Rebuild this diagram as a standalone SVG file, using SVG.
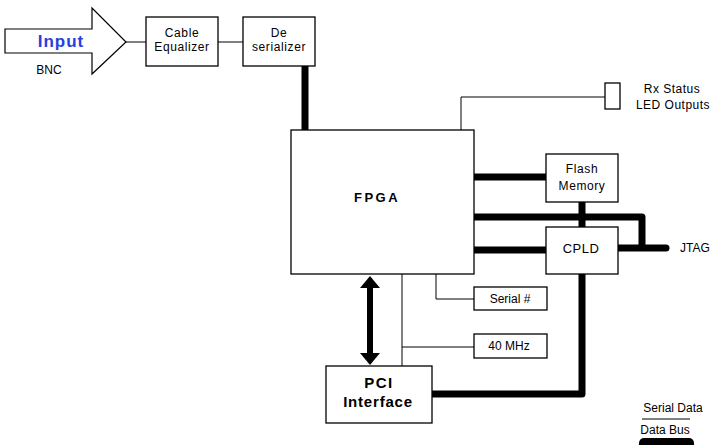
<svg xmlns="http://www.w3.org/2000/svg" width="714" height="445" viewBox="0 0 714 445">
<defs>
<style>
.box{fill:#fff;stroke:#000;stroke-width:1.3}
.thin{fill:none;stroke:#000;stroke-width:1}
.bus{fill:none;stroke:#000;stroke-width:7;stroke-linejoin:round}
text{font-family:"Liberation Sans",Arial,sans-serif;fill:#000}
.lbl{font-size:12px;letter-spacing:0.6px;text-anchor:middle}
</style>
</defs>
<rect width="714" height="445" fill="#fff"/>
<g id="connectors">
<line class="thin" x1="126" y1="42" x2="146" y2="42"/>
<line class="thin" x1="218" y1="42" x2="243" y2="42"/>
<line class="bus" x1="305" y1="66" x2="305" y2="130"/>
<polyline class="thin" points="461,130 461,97 605,97"/>
<line class="bus" x1="474" y1="177" x2="546" y2="177"/>
<polyline class="bus" points="474,217 642,217 642,248"/>
<line class="bus" x1="582" y1="202" x2="582" y2="227"/>
<line class="bus" x1="474" y1="250" x2="546" y2="250"/>
<line class="bus" x1="618" y1="248" x2="666" y2="248" stroke-linecap="round"/>
<polyline class="bus" points="582,274 582,394 432,394"/>
<line class="thin" x1="402" y1="274" x2="402" y2="366"/>
<line class="thin" x1="402" y1="347" x2="474" y2="347"/>
<polyline class="thin" points="436,274 436,299 474,299"/>
<line x1="370" y1="286" x2="370" y2="355" stroke="#000" stroke-width="6"/>
<path d="M360,288 L370,276 L380,288 Z" fill="#000"/>
<path d="M360,353 L370,365 L380,353 Z" fill="#000"/>
</g>
<g id="input">
<path d="M5,29 L92,29 L92,8 L126,42 L92,74 L92,53 L5,53 Z" fill="#fff" stroke="#000" stroke-width="1.2"/>
<text x="61" y="47" font-size="17" font-weight="bold" style="fill:#2a3ee0" text-anchor="middle" letter-spacing="1">Input</text>
<text x="49" y="74" font-size="12" text-anchor="middle">BNC</text>
</g>
<g id="cable-equalizer">
<rect class="box" x="146" y="17" width="72" height="49"/>
<text class="lbl" x="182" y="37">Cable</text>
<text class="lbl" x="182" y="51">Equalizer</text>
</g>
<g id="deserializer">
<rect class="box" x="243" y="17" width="72" height="49"/>
<text class="lbl" x="279" y="37">De</text>
<text class="lbl" x="279" y="51">serializer</text>
</g>
<g id="fpga">
<rect class="box" x="291" y="130" width="183" height="144"/>
<text x="377" y="202" font-size="13" font-weight="bold" text-anchor="middle" letter-spacing="2.5">FPGA</text>
</g>
<g id="led">
<rect class="box" x="605" y="83" width="15" height="26"/>
<text x="672" y="93" font-size="12" text-anchor="middle" letter-spacing="0.5">Rx Status</text>
<text x="673" y="109" font-size="12" text-anchor="middle" letter-spacing="0.5">LED Outputs</text>
</g>
<g id="flash">
<rect class="box" x="546" y="154" width="72" height="48"/>
<text class="lbl" x="582" y="173">Flash</text>
<text class="lbl" x="582" y="190">Memory</text>
</g>
<g id="cpld">
<rect class="box" x="546" y="227" width="72" height="47"/>
<text x="581" y="253" font-size="13" text-anchor="middle" letter-spacing="0.5">CPLD</text>
</g>
<g id="jtag">
<text x="680" y="252" font-size="12">JTAG</text>
</g>
<g id="serial">
<rect class="box" x="474" y="287" width="73" height="23"/>
<text x="510" y="303" font-size="12" text-anchor="middle">Serial #</text>
</g>
<g id="clock">
<rect class="box" x="474" y="334" width="73" height="24"/>
<text x="509" y="350" font-size="12" text-anchor="middle">40 MHz</text>
</g>
<g id="pci">
<rect class="box" x="326" y="366" width="106" height="57"/>
<text x="379" y="388" font-size="15" font-weight="bold" text-anchor="middle" letter-spacing="1.5">PCI</text>
<text x="378" y="407" font-size="15" font-weight="bold" text-anchor="middle" letter-spacing="0.8">Interface</text>
</g>
<g id="legend">
<text x="673" y="412" font-size="12" text-anchor="middle">Serial Data</text>
<line class="thin" x1="642" y1="419" x2="690" y2="419"/>
<text x="665" y="434" font-size="12" text-anchor="middle">Data Bus</text>
<rect x="639" y="438" width="55" height="14" rx="5" fill="#000"/>
</g>
</svg>
